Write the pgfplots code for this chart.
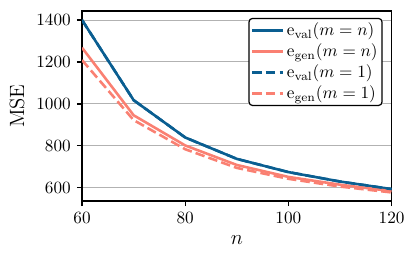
\documentclass[border=0pt]{standalone}
\usepackage{pgfplots}
\pgfplotsset{compat=1.18}
\definecolor{cblue}{RGB}{10,94,145}
\definecolor{corange}{RGB}{250,128,114}
\begin{document}
\begin{tikzpicture}
\useasboundingbox (-47.7pt,-36.6pt) rectangle (194.2pt,116.9pt);
\begin{axis}[
  at={(0pt,0pt)}, anchor=south west,
  scale only axis,
  width=180pt, height=110.5pt,
  xmin=60, xmax=120, ymin=537, ymax=1443,
  xtick={60,80,100,120},
  ytick={600,800,1000,1200,1400},
  tick align=outside,
  tick pos=left,
  major tick length=3pt,
  ymajorgrids,
  grid style={black!30, line width=0.6pt},
  axis line style={line width=0.7pt},
  tick style={line width=0.7pt, black},
  xlabel={\large $n$},
  ylabel={\large MSE},
  scaled y ticks=false,
  yticklabel style={/pgf/number format/.cd,1000 sep={}},
  legend style={at={(rel axis cs:0.971,0.964)}, anchor=north east,
    draw=black, line width=0.7pt, rounded corners=2pt, font=\normalsize,
    inner sep=1.2pt, row sep=0.6pt,
    nodes={inner sep=1.3pt}},
  legend cell align=left,
  legend image code/.code={\draw[#1] (0pt,0pt) -- (18pt,0pt);},
]
\addplot[cblue, line width=1.5pt] coordinates {(60,1400) (70,1018) (80,840) (90,738) (100,675) (110,630) (120,594)};
\addlegendentry{$\mathrm{e}_{\mathrm{val}}(m=n)$}
\addplot[corange, line width=1.5pt] coordinates {(60,1268) (70,946) (80,802) (90,709) (100,652) (110,615) (120,584)};
\addlegendentry{$\mathrm{e}_{\mathrm{gen}}(m=n)$}
\addplot[cblue, line width=1.5pt, dash pattern=on 5.5pt off 2.4pt] coordinates {(60,1400) (70,1018) (80,840) (90,738) (100,675) (110,630) (120,594)};
\addlegendentry{$\mathrm{e}_{\mathrm{val}}(m=1)$}
\addplot[corange, line width=1.5pt, dash pattern=on 5.5pt off 2.4pt] coordinates {(60,1209) (70,923) (80,784) (90,695) (100,643) (110,606) (120,578)};
\addlegendentry{$\mathrm{e}_{\mathrm{gen}}(m=1)$}
\end{axis}
\end{tikzpicture}
\end{document}
